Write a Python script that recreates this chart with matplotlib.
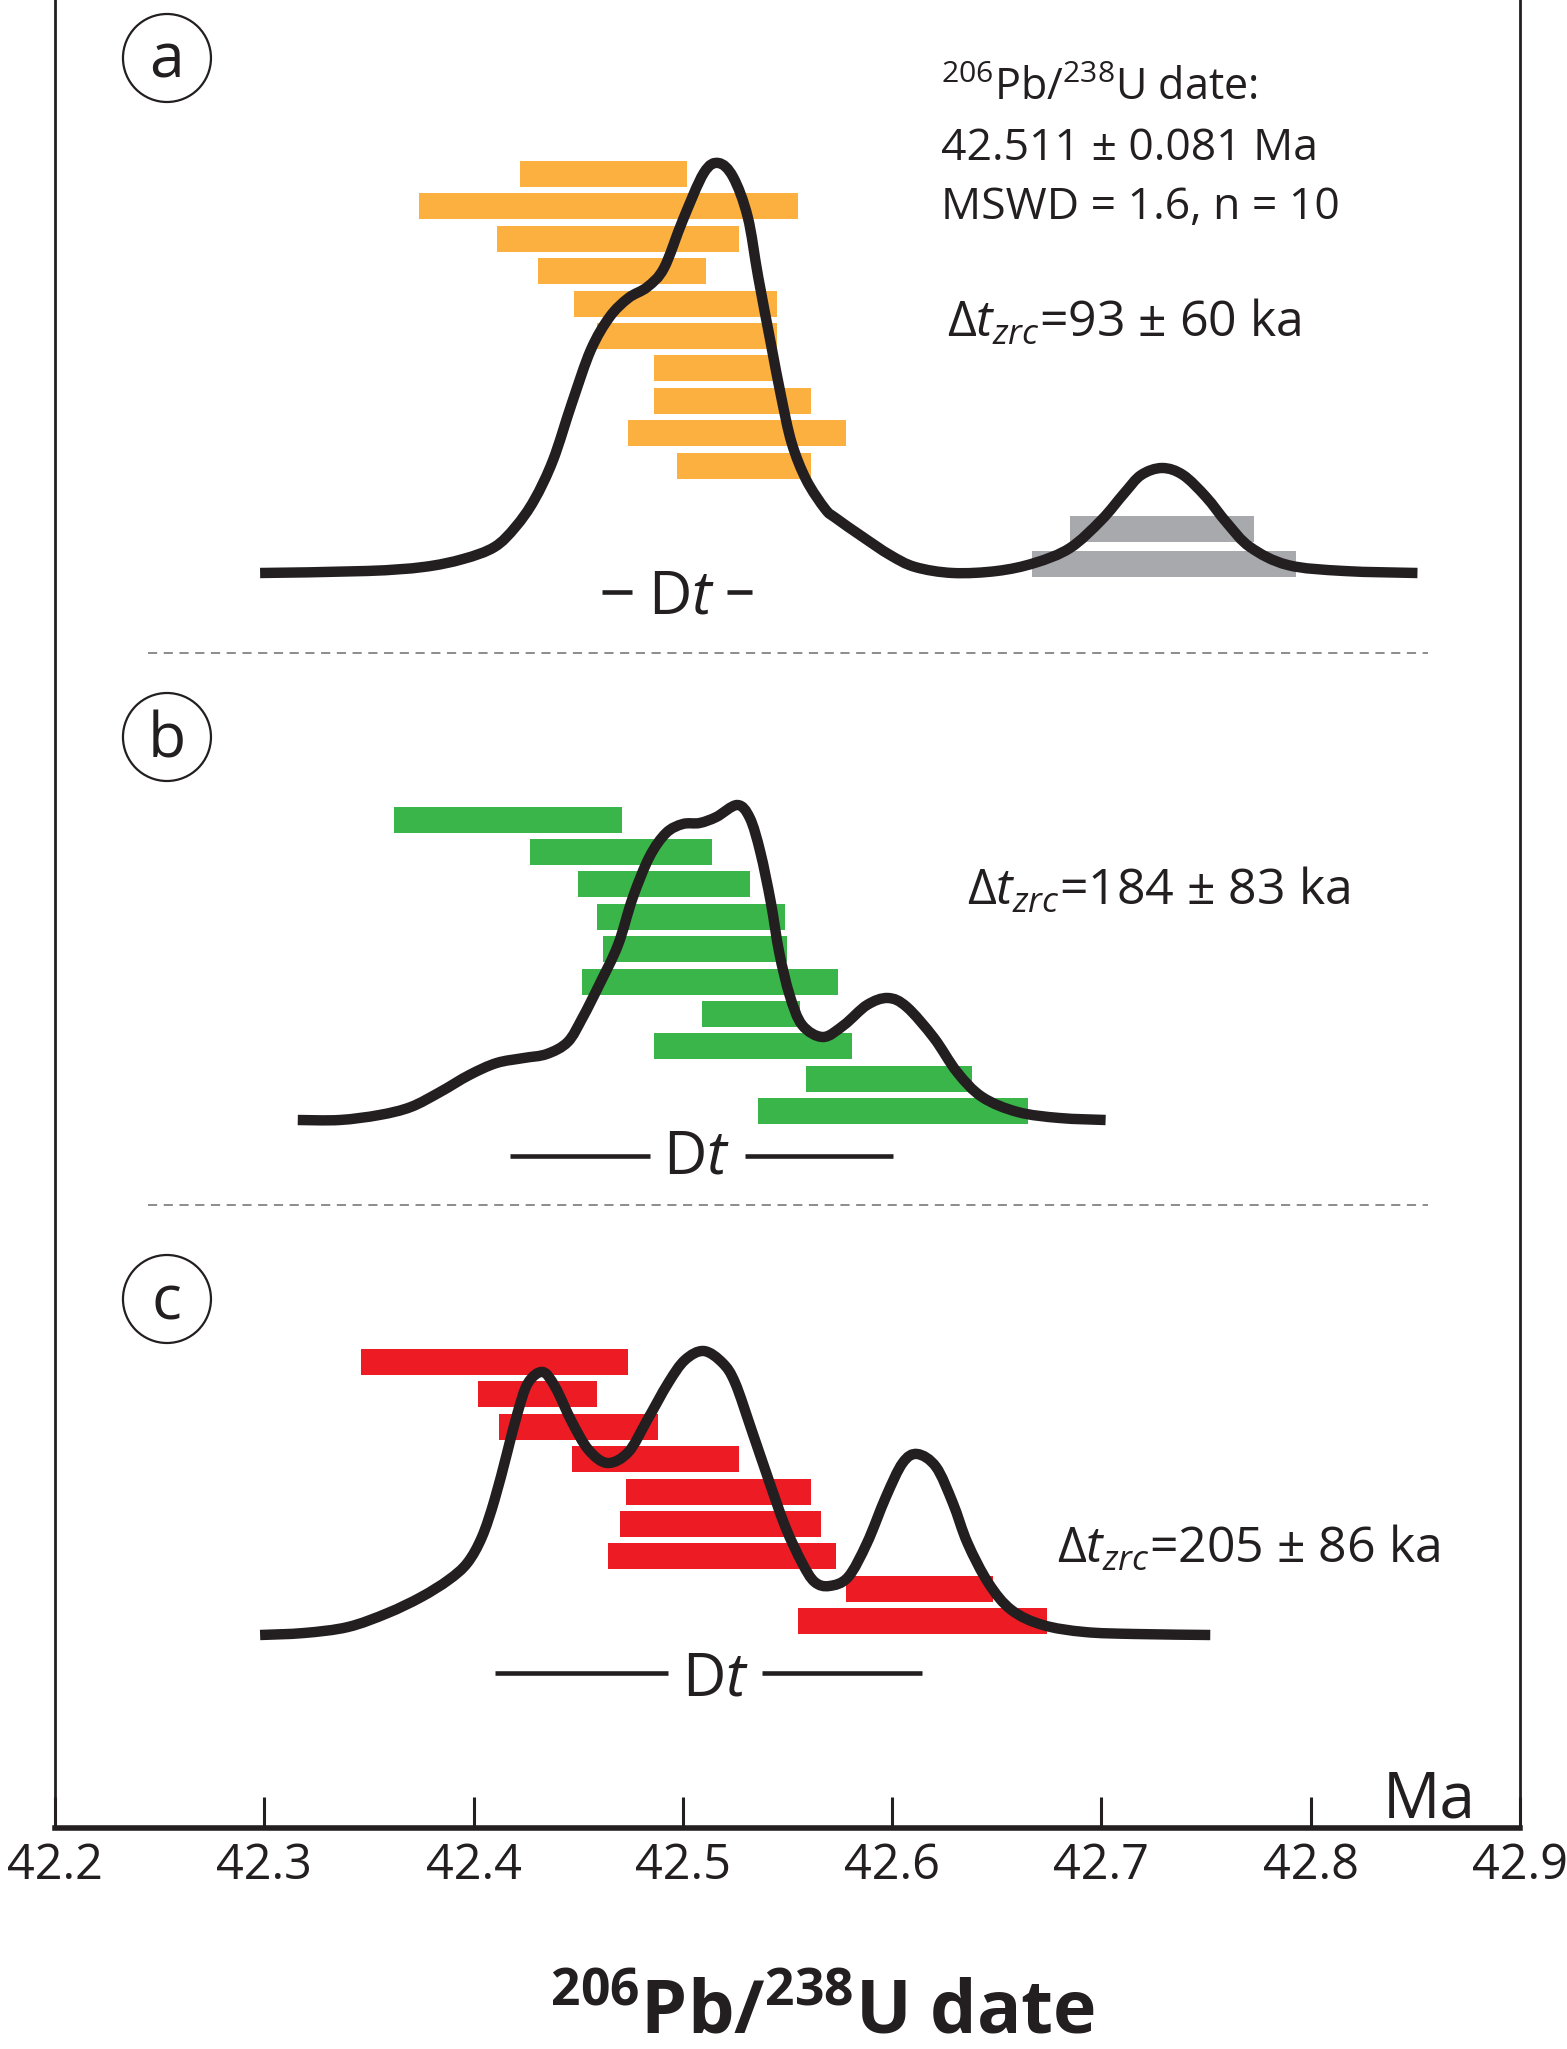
import matplotlib
matplotlib.use('Agg')
import matplotlib.pyplot as plt
from matplotlib.patches import Ellipse, PathPatch
from matplotlib.path import Path

plt.rcParams['font.family'] = ['Open Sans', 'DejaVu Sans']
plt.rcParams['mathtext.fontset'] = 'custom'
plt.rcParams['mathtext.rm'] = 'Open Sans'
plt.rcParams['mathtext.it'] = 'Open Sans:italic'
plt.rcParams['mathtext.bf'] = 'Open Sans:bold'

# ---- data (dates in Ma) ----
# panel a: orange = included grains, grey = older outliers
a_left = [42.422, 42.374, 42.411, 42.431, 42.448, 42.459, 42.486, 42.486, 42.474, 42.497]
a_right = [42.502, 42.555, 42.527, 42.511, 42.545, 42.545, 42.545, 42.561, 42.578, 42.561]
a_grey_left = [42.685, 42.667]
a_grey_right = [42.773, 42.793]
a_kde_x = [42.298, 42.349, 42.376, 42.395, 42.410, 42.420, 42.429, 42.438, 42.447,
           42.456, 42.465, 42.474, 42.483, 42.491, 42.500, 42.510, 42.517, 42.524,
           42.531, 42.536, 42.542, 42.547, 42.552, 42.559, 42.568, 42.573, 42.586,
           42.599, 42.611, 42.629, 42.650, 42.668, 42.685, 42.700, 42.711, 42.719,
           42.729, 42.739, 42.750, 42.760, 42.771, 42.789, 42.816, 42.851]
a_kde_y = [0, 2, 6, 14, 26, 46, 73, 113, 170, 223, 256, 275, 286, 305, 353, 400, 410,
           396, 356, 296, 230, 176, 130, 93, 64, 55, 36, 18, 6, 0, 2, 10, 25, 53, 80,
           98, 105, 98, 76, 50, 26, 8, 2, 0]

# panel b
b_left = [42.362, 42.427, 42.450, 42.459, 42.462, 42.452, 42.509, 42.486, 42.559, 42.536]
b_right = [42.471, 42.514, 42.532, 42.549, 42.550, 42.574, 42.556, 42.581, 42.638, 42.665]
b_kde_x = [42.316, 42.336, 42.355, 42.370, 42.384, 42.398, 42.411, 42.424, 42.435,
           42.445, 42.452, 42.460, 42.469, 42.476, 42.484, 42.492, 42.500, 42.508,
           42.516, 42.526, 42.532, 42.537, 42.542, 42.546, 42.551, 42.557, 42.567,
           42.577, 42.588, 42.598, 42.607, 42.620, 42.631, 42.643, 42.660, 42.680,
           42.702]
b_kde_y = [0, 0, 5, 13, 28, 45, 57, 62, 66, 78, 102, 135, 175, 222, 263, 287, 296, 297,
           303, 315, 302, 268, 218, 168, 125, 95, 83, 95, 115, 122, 113, 82, 48, 23, 8,
           2, 0]

# panel c
c_left = [42.346, 42.402, 42.412, 42.447, 42.473, 42.470, 42.464, 42.578, 42.555]
c_right = [42.474, 42.459, 42.488, 42.527, 42.561, 42.566, 42.573, 42.648, 42.674]
c_kde_x = [42.298, 42.319, 42.340, 42.359, 42.375, 42.388, 42.397, 42.404, 42.410,
           42.416, 42.421, 42.426, 42.433, 42.439, 42.447, 42.455, 42.464, 42.474,
           42.483, 42.493, 42.501, 42.510, 42.519, 42.525, 42.533, 42.541, 42.549,
           42.557, 42.563, 42.570, 42.579, 42.588, 42.597, 42.605, 42.612, 42.621,
           42.629, 42.636, 42.646, 42.657, 42.672, 42.692, 42.716, 42.752]
c_kde_y = [0, 2, 8, 22, 38, 55, 72, 98, 135, 182, 222, 252, 263, 248, 213, 185, 172,
           183, 215, 252, 275, 284, 272, 252, 204, 155, 108, 72, 53, 49, 58, 92, 138,
           172, 181, 168, 132, 92, 52, 25, 10, 3, 1, 0]

# Delta-t bars under each curve (Ma)
a_dt = [(42.4614, 42.4757), (42.5211, 42.5330)]
b_dt = [(42.4174, 42.4843), (42.5297, 42.6004)]
c_dt = [(42.4102, 42.4929), (42.5378, 42.6142)]

ticks = [42.2, 42.3, 42.4, 42.5, 42.6, 42.7, 42.8, 42.9]

# ---- layout (pixel rows measured from top of the plot area) ----
W, H = 1567, 2049
AX_BOTTOM = 1828
BAR_H = 26
ink = '#231f20'

fig = plt.figure(figsize=(W / 100, H / 100), dpi=100)
ax = fig.add_axes([55 / W, 1 - AX_BOTTOM / H, 1465 / W, AX_BOTTOM / H])
ax.set_xlim(42.2, 42.9)
ax.set_ylim(AX_BOTTOM, 0)


def bars(left, right, y0, step, color):
    ys = [y0 + i * step for i in range(len(left))]
    widths = [r - l for l, r in zip(left, right)]
    ax.barh(ys, widths, left=left, height=BAR_H, color=color, linewidth=0, zorder=2)


def curve(xs, hs, base):
    # smooth (Catmull-Rom) rendering through the read points
    pts = [(x, base - h) for x, h in zip(xs, hs)]
    n = len(pts)
    verts = [pts[0]]
    codes = [Path.MOVETO]
    for i in range(n - 1):
        p0 = pts[max(i - 1, 0)]
        p1 = pts[i]
        p2 = pts[i + 1]
        p3 = pts[min(i + 2, n - 1)]
        c1 = (p1[0] + (p2[0] - p0[0]) / 6, p1[1] + (p2[1] - p0[1]) / 6)
        c2 = (p2[0] - (p3[0] - p1[0]) / 6, p2[1] - (p3[1] - p1[1]) / 6)
        verts += [c1, c2, p2]
        codes += [Path.CURVE4] * 3
    ax.add_patch(PathPatch(Path(verts, codes), fill=False, ec=ink, lw=7.5, zorder=3,
                           capstyle='butt', joinstyle='round'))


def dt_label(segs, xc, yline, ybase):
    for x1, x2 in segs:
        ax.plot([x1, x2], [yline, yline], color=ink, lw=3.3, solid_capstyle='butt')
    ax.text(xc, ybase, r'D$t$', fontsize=43, color=ink, ha='center', va='baseline')


def panel_tag(letter, yc):
    ax.add_patch(Ellipse((42.2535, yc), 88 / 2093, 88, fill=False, ec=ink, lw=1.6))
    ax.text(42.2535, yc + 20, letter, fontsize=45, color=ink, ha='center', va='baseline')


# panel a
bars(a_left, a_right, 174, 32.4, '#fbb040')
bars(a_grey_left, a_grey_right, 529, 35, '#a7a9ac')
curve(a_kde_x, a_kde_y, 573)
dt_label(a_dt, 42.4993, 592, 614)
panel_tag('a', 58)
ax.text(42.6233, 100, r'$^{206}$Pb/$^{238}$U date:', fontsize=31, color=ink, va='baseline')
ax.text(42.6233, 160, '42.511 ± 0.081 Ma', fontsize=32, color=ink, va='baseline')
ax.text(42.6233, 219, 'MSWD = 1.6, n = 10', fontsize=32, color=ink, va='baseline')
ax.text(42.6262, 337, r'Δ$t_{zrc}$=93 ± 60 ka', fontsize=36, color=ink, va='baseline')

# panel b
bars(b_left, b_right, 819.5, 32.4, '#39b54a')
curve(b_kde_x, b_kde_y, 1120)
dt_label(b_dt, 42.5067, 1156, 1174)
panel_tag('b', 737)
ax.text(42.6357, 905, r'Δ$t_{zrc}$=184 ± 83 ka', fontsize=36, color=ink, va='baseline')

# panel c
bars(c_left, c_right, 1362, 32.4, '#ed1c24')
curve(c_kde_x, c_kde_y, 1635)
dt_label(c_dt, 42.5158, 1673, 1695)
panel_tag('c', 1299)
ax.text(42.6787, 1563, r'Δ$t_{zrc}$=205 ± 86 ka', fontsize=36, color=ink, va='baseline')

# dashed separators
for ysep in (653, 1205):
    ax.plot([42.2444, 42.8560], [ysep, ysep], color='#6d6e71', lw=1.1, dashes=(6, 4.3))

ax.text(42.8345, 1817, 'Ma', fontsize=46, color=ink, va='baseline')

# axes frame
ax.spines['top'].set_visible(False)
for s in ('left', 'right'):
    ax.spines[s].set_linewidth(2.0)
    ax.spines[s].set_color(ink)
ax.spines['bottom'].set_linewidth(4.0)
ax.spines['bottom'].set_color(ink)
ax.set_yticks([])
ax.set_xticks(ticks)
ax.set_xticklabels([f'{t:.1f}' for t in ticks])
ax.tick_params(axis='x', direction='in', length=22, width=2.2, pad=10,
               labelsize=35, color=ink, labelcolor=ink)

fig.text(823 / W, 16 / H, r'$^{\mathbf{206}}$Pb/$^{\mathbf{238}}$U date', fontsize=53,
         fontweight='bold', color=ink, ha='center', va='baseline')

fig.savefig('out.png', dpi=100)
